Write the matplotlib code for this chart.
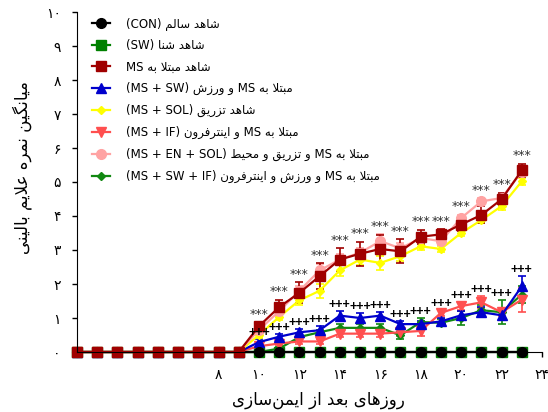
import re
import numpy as np
import matplotlib
matplotlib.use('Agg')
import matplotlib.pyplot as plt

# ---- data ----
days = list(range(1, 24))

con = [0]*23
sw = [0]*23
ms = [0]*9 + [0.76, 1.32, 1.74, 2.23, 2.72, 2.89, 3.03, 2.96, 3.39, 3.46, 3.75, 4.03, 4.49, 5.34]
ms_err = [0]*9 + [0.12, 0.22, 0.31, 0.39, 0.34, 0.36, 0.42, 0.35, 0.21, 0.15, 0.20, 0.25, 0.20, 0.20]
ms_sw = [0]*9 + [0.29, 0.45, 0.58, 0.64, 1.07, 1.00, 1.07, 0.82, 0.82, 0.90, 1.08, 1.17, 1.08, 1.93]
ms_sw_err = [0]*9 + [0.08, 0.08, 0.10, 0.12, 0.15, 0.14, 0.12, 0.10, 0.10, 0.10, 0.12, 0.15, 0.10, 0.30]
sol = [0]*9 + [0.50, 1.03, 1.52, 1.80, 2.40, 2.72, 2.62, 2.82, 3.11, 3.03, 3.50, 3.88, 4.29, 5.02]
sol_err = [0]*9 + [0.10, 0.10, 0.15, 0.20, 0.15, 0.15, 0.20, 0.15, 0.10, 0.10, 0.10, 0.10, 0.10, 0.10]
ms_if = [0]*9 + [0.17, 0.25, 0.31, 0.31, 0.54, 0.54, 0.54, 0.58, 0.62, 1.15, 1.35, 1.46, 1.17, 1.54]
ms_if_err = [0]*9 + [0.05, 0.05, 0.08, 0.08, 0.10, 0.10, 0.10, 0.10, 0.15, 0.10, 0.12, 0.18, 0.12, 0.35]
en_sol = [0]*9 + [0.65, 1.20, 1.80, 2.40, 2.72, 2.92, 3.26, 3.05, 3.35, 3.26, 3.94, 4.43, 4.53, 5.30]
en_sol_err = [0]*9 + [0.10, 0.15, 0.15, 0.20, 0.15, 0.15, 0.20, 0.15, 0.10, 0.10, 0.10, 0.10, 0.10, 0.10]
ms_sw_if = [0]*9 + [0.00, 0.10, 0.44, 0.58, 0.71, 0.71, 0.71, 0.49, 0.88, 0.86, 1.00, 1.23, 1.17, 1.69]
ms_sw_if_err = [0]*9 + [0.03, 0.05, 0.08, 0.08, 0.10, 0.10, 0.10, 0.10, 0.12, 0.10, 0.20, 0.15, 0.35, 0.25]

star_labels = [''] * 9 + ['***'] * 14
plus_labels = [''] * 9 + ['+++'] * 14

labels = ['شاهد سالم (CON)',
          'شاهد شنا (SW)',
          'شاهد مبتلا به MS',
          'مبتلا به MS و ورزش (MS + SW)',
          'شاهد تزریق (MS + SOL)',
          'مبتلا به MS و اینترفرون (MS + IF)',
          'مبتلا به MS و تزریق و محیط (MS + EN + SOL)',
          'مبتلا به MS و ورزش و اینترفرون (MS + SW + IF)']
xlabel = 'روزهای بعد از ایمن\u200cسازی'
ylabel = 'میانگین نمره علایم بالینی'


# ---- minimal Persian shaping + visual ordering (matplotlib has no RTL) ----
# (isolated, final, initial, medial)
FORMS = {
    'ا': ('\uFE8D', '\uFE8E', None, None),
    'ب': ('\uFE8F', '\uFE90', '\uFE91', '\uFE92'),
    'ت': ('\uFE95', '\uFE96', '\uFE97', '\uFE98'),
    'ح': ('\uFEA1', '\uFEA2', '\uFEA3', '\uFEA4'),
    'د': ('\uFEA9', '\uFEAA', None, None),
    'ر': ('\uFEAD', '\uFEAE', None, None),
    'ز': ('\uFEAF', '\uFEB0', None, None),
    'س': ('\uFEB1', '\uFEB2', '\uFEB3', '\uFEB4'),
    'ش': ('\uFEB5', '\uFEB6', '\uFEB7', '\uFEB8'),
    'ط': ('\uFEC1', '\uFEC2', '\uFEC3', '\uFEC4'),
    'ع': ('\uFEC9', '\uFECA', '\uFECB', '\uFECC'),
    'ف': ('\uFED1', '\uFED2', '\uFED3', '\uFED4'),
    'ق': ('\uFED5', '\uFED6', '\uFED7', '\uFED8'),
    'ل': ('\uFEDD', '\uFEDE', '\uFEDF', '\uFEE0'),
    'م': ('\uFEE1', '\uFEE2', '\uFEE3', '\uFEE4'),
    'ن': ('\uFEE5', '\uFEE6', '\uFEE7', '\uFEE8'),
    'ه': ('\uFEE9', '\uFEEA', '\uFEEB', '\uFEEC'),
    'و': ('\uFEED', '\uFEEE', None, None),
    'ی': ('\uFBFC', '\uFBFD', '\uFBFE', '\uFBFF'),
    'گ': ('\uFB92', '\uFB93', '\uFB94', '\uFB95'),
}


def shape(s):
    out = []
    i = 0
    while i < len(s):
        c = s[i]
        if c not in FORMS:
            if c != '\u200c':
                out.append(c)
            i += 1
            continue
        prev = s[i-1] if i > 0 else ''
        join_prev = prev in FORMS and FORMS[prev][2] is not None
        if c == 'ل' and i + 1 < len(s) and s[i+1] == 'ا':
            out.append('\uFEFC' if join_prev else '\uFEFB')
            i += 2
            continue
        nxt = s[i+1] if i + 1 < len(s) else ''
        join_next = FORMS[c][2] is not None and nxt in FORMS
        f = FORMS[c]
        if join_prev and join_next:
            out.append(f[3])
        elif join_next:
            out.append(f[2])
        elif join_prev:
            out.append(f[1])
        else:
            out.append(f[0])
        i += 1
    return ''.join(out)


def fa(s):
    s = shape(s)[::-1]
    s = s.translate(str.maketrans('()', ')('))
    return re.sub(r'[A-Za-z0-9][A-Za-z0-9 +]*[A-Za-z0-9]|[A-Za-z0-9]',
                  lambda m: m.group(0)[::-1], s)


def fa_num(n):
    return str(n).translate(str.maketrans('0123456789', '۰۱۲۳۴۵۶۷۸۹'))


plt.rcParams['font.family'] = ['DejaVu Sans']

fig = plt.figure(figsize=(5.48, 4.12), dpi=100)
ax = fig.add_axes([77/548, 1-352/412, 465/548, 340/412])

series = [
    (sw, [0]*23, '#008000', 's'),
    (ms_sw_if, ms_sw_if_err, '#118811', 'D'),
    (ms_if, ms_if_err, '#ff4f4f', 'v'),
    (ms_sw, ms_sw_err, '#0000cc', '^'),
    (con, [0]*23, 'black', 'o'),
    (sol, sol_err, '#ffff00', 'D'),
    (en_sol, en_sol_err, '#ffa3a3', 'o'),
    (ms, ms_err, '#a00000', 's'),
]
msizes = {'o': 7, 's': 6.5, '^': 6.5, 'v': 6.5, 'D': 4.5}

handles = {}
for vals, err, col, mk in series:
    cont = ax.errorbar(days, vals, yerr=err, color=col, marker=mk,
                       markersize=msizes[mk], linewidth=1.6, elinewidth=1.2,
                       capsize=3, capthick=1.2, clip_on=False)
    for artist in cont.get_children():
        artist.set_clip_on(False)
    handles[id(vals)] = cont.lines[0]

order = [con, sw, ms, ms_sw, sol, ms_if, en_sol, ms_sw_if]
leg = ax.legend([handles[id(v)] for v in order], [fa(l) for l in labels],
                loc='upper left', bbox_to_anchor=(92/548, 1-17/412),
                bbox_transform=fig.transFigure, frameon=False, fontsize=8.5,
                handlelength=1.5, handletextpad=1.4, labelspacing=0.74,
                borderpad=0, borderaxespad=0)

# significance marks
for i, d in enumerate(days):
    if star_labels[i]:
        top = max(ms[i] + ms_err[i], en_sol[i] + en_sol_err[i], sol[i] + sol_err[i])
        ax.annotate(star_labels[i], (d, top), xytext=(0, 1), textcoords='offset points',
                    ha='center', va='bottom', fontsize=9, color='#333333')
    if plus_labels[i]:
        top = max(ms_sw[i] + ms_sw_err[i], ms_if[i] + ms_if_err[i],
                  ms_sw_if[i] + ms_sw_if_err[i])
        ax.annotate(plus_labels[i], (d, top), xytext=(0, 0), textcoords='offset points',
                    ha='center', va='bottom', fontsize=9, color='black',
                    family='Liberation Sans', fontweight='bold')

ax.set_xlim(1, 24)
ax.set_ylim(0, 10)
xt = list(range(8, 25, 2))
ax.set_xticks(xt)
ax.set_xticklabels([fa_num(t) for t in xt], fontsize=10)
yt = list(range(0, 11))
ax.set_yticks(yt)
ax.set_yticklabels([fa_num(t) for t in yt], fontsize=10)
ax.tick_params(length=3.6, width=1, pad=8)
ax.spines['top'].set_visible(False)
ax.spines['right'].set_visible(False)

fig.text(22/548, 1-168/412, fa(ylabel), rotation=90, ha='center', va='center', fontsize=12)
fig.text(318/548, 1-400/412, fa(xlabel), ha='center', va='center', fontsize=12)

fig.savefig('out.png', dpi=100)
